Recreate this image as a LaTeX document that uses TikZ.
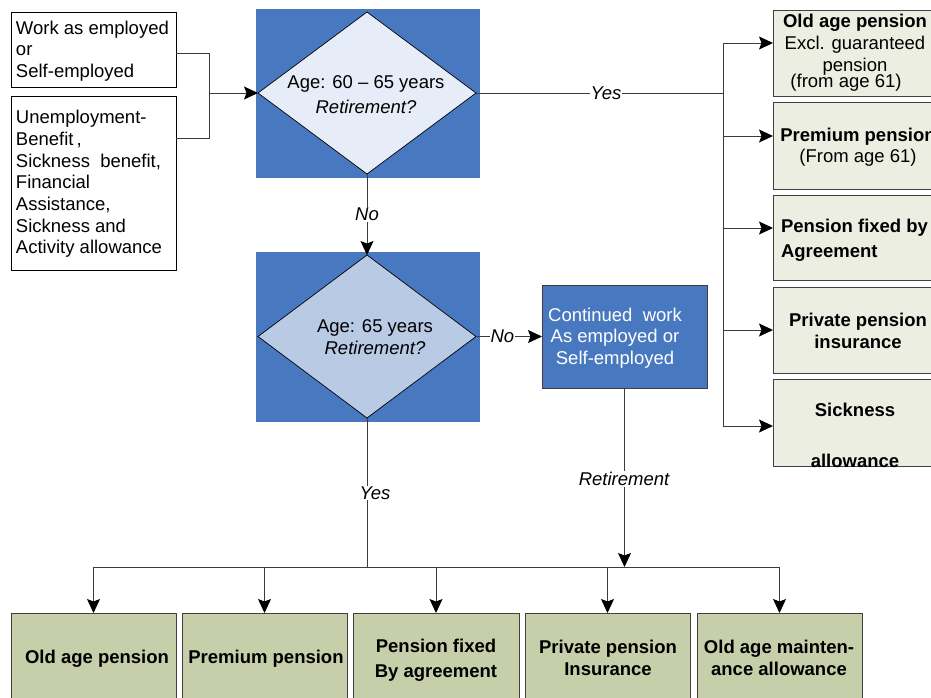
\documentclass[tikz,border=0pt]{standalone}
\usepackage{fontspec}
\setmainfont{Liberation Sans}
\usetikzlibrary{arrows.meta,shapes.geometric}

\definecolor{panelblue}{HTML}{4878C0}
\definecolor{diamondlight}{HTML}{E6EDF8}
\definecolor{diamondmid}{HTML}{B8CAE4}
\definecolor{paybox}{HTML}{EDEEE2}
\definecolor{outcomebox}{HTML}{C6CFA9}
\definecolor{wire}{HTML}{3C3C3C}
\definecolor{frame}{HTML}{404040}

\begin{document}
\begin{tikzpicture}[x=1pt,y=-1pt,
  every node/.style={font=\fontsize{18.5}{21.5}\selectfont, inner sep=0pt, outer sep=0pt},
  line/.style={draw=wire, line width=0.9pt},
  arr/.style={line, -{Stealth[length=14pt,width=13pt,inset=2.5pt,color=black]}},
  plainbox/.style={draw=black, line width=0.9pt, fill=white, rectangle},
  panel/.style={fill=panelblue, rectangle},
  choice/.style={diamond, draw=black, line width=0.7pt, aspect=1.35},
  paybox/.style={draw=frame, line width=1pt, fill=paybox, rectangle},
  outbox/.style={draw=frame, line width=1pt, fill=outcomebox, rectangle},
  lbl/.style={fill=white, inner sep=1pt, font=\fontsize{18.5}{21.5}\selectfont\itshape},
  boldtxt/.style={font=\fontsize{18.5}{21.5}\selectfont\bfseries, align=center}]

\useasboundingbox (0,0) rectangle (931,697);

% ---- entry situations
\node[plainbox, minimum width=165pt, minimum height=75pt] (lb1) at (93.5,49.5) {};
\node[align=left, anchor=west] (lb1t) at (16,51)
  {Work as employed\\or\\Self-employed};
\node[plainbox, minimum width=165pt, minimum height=174pt] (lb2) at (93.5,183) {};
\node[align=left, anchor=west, font=\fontsize{18.5}{21.7}\selectfont] (lb2t) at (16,184)
  {Unemployment-\\Benefit\,,\\Sickness\ \ benefit,\\Financial\\Assistance,\\Sickness and\\Activity allowance};

% ---- first decision
\node[panel, minimum width=224pt, minimum height=169pt] (p1) at (368,93.5) {};
\node[choice, fill=diamondlight, minimum width=218pt, minimum height=162pt] (d1) at (367,93) {};
\node[align=center] (d1t) at (366,95) {Age: 60 -- 65 years\\[3.5pt]\textit{Retirement?}};

% ---- second decision
\node[panel, minimum width=224pt, minimum height=170pt] (p2) at (368,337) {};
\node[choice, fill=diamondmid, minimum width=218pt, minimum height=163pt] (d2) at (367,336.5) {};
\node[align=center] (d2t) at (375,337) {Age: 65 years\\\textit{Retirement?}};

% ---- continued work
\node[draw=frame, line width=1pt, fill=panelblue, minimum width=165pt, minimum height=103pt] (cw) at (624.5,336.5) {};
\node[align=center, text=white] (cwt) at (615,338)
  {Continued\ \ work\\As employed or\\Self-employed};

% ---- early pension outcomes
\node[paybox, minimum width=172pt, minimum height=86pt] (rb1) at (859,53) {};
\node[align=center] (rb1t) at (855,53)
  {\textbf{Old age pension}\\Excl. guaranteed\\[0.5pt]pension\\[-5pt]\hspace*{-18pt}(from age 61)};
\node[paybox, minimum width=172pt, minimum height=87pt] (rb2) at (859,145.5) {};
\node[align=center] (rb2t) at (858,147)
  {\textbf{Premium pension}\\(From age 61)};
\node[paybox, minimum width=172pt, minimum height=85pt] (rb3) at (859,237.5) {};
\node[align=left, anchor=west, font=\fontsize{18.5}{25}\selectfont\bfseries] (rb3t) at (781,240.5)
  {Pension fixed by\\Agreement};
\node[paybox, minimum width=172pt, minimum height=86pt] (rb4) at (859,330) {};
\node[boldtxt] (rb4t) at (858,331) {Private pension\\insurance};
\node[paybox, minimum width=172pt, minimum height=87pt] (rb5) at (859,422.5) {};
\node[boldtxt] (rb5t) at (855,435.5) {Sickness\\[29.5pt]allowance};

% ---- pension outcomes at 65
\node[outbox, minimum width=165pt, minimum height=92pt] (bb1) at (93.5,659) {};
\node[boldtxt] (bb1t) at (97,659) {Old age pension};
\node[outbox, minimum width=165pt, minimum height=92pt] (bb2) at (264.5,659) {};
\node[boldtxt] (bb2t) at (266,659) {Premium pension};
\node[outbox, minimum width=166pt, minimum height=92pt] (bb3) at (436,659) {};
\node[boldtxt] (bb3t) at (436,660) {Pension fixed\\[3pt]By agreement};
\node[outbox, minimum width=165pt, minimum height=92pt] (bb4) at (607.5,659) {};
\node[boldtxt] (bb4t) at (608,658) {Private pension\\Insurance};
\node[outbox, minimum width=165pt, minimum height=92pt] (bb5) at (779.5,659) {};
\node[boldtxt] (bb5t) at (779,658) {Old age mainten-\\ance allowance};

% ---- junction points
\coordinate (jin) at (209,93);
\coordinate (jout) at (723,93);
\coordinate (bus) at (93.5,567);

% inputs merge into the first decision
\draw[line] (lb1.east |- 0,53) -| (jin);
\draw[line] (lb2.east |- 0,138) -| (jin);
\draw[arr] (jin) -- (d1.west);

% yes branch of the first decision
\draw[line] (d1.east) -- (jout);
\node[lbl] (yes1) at (606,93) {Yes};
\draw[line] (jout |- 0,43) -- (jout |- 0,426);
\draw[arr] (jout |- 0,43) -- (rb1.west |- 0,43);
\draw[arr] (jout |- 0,136) -- (rb2.west |- 0,136);
\draw[arr] (jout |- 0,228) -- (rb3.west |- 0,228);
\draw[arr] (jout |- 0,330) -- (rb4.west |- 0,330);
\draw[arr] (jout |- 0,426) -- (rb5.west |- 0,426);

% no branch of the first decision
\draw[arr] (d1.south) -- node[lbl] (no1) {No} (d2.north);

% no branch of the second decision
\draw[arr] (d2.east) -- node[lbl, pos=0.4] (no2) {No} (cw.west);

% yes branch of the second decision and the outcome bus
\draw[line] (d2.south) -- (d2.south |- bus);
\node[lbl] (yes2) at (375,493) {Yes};
\draw[line] (bb1.north |- bus) -- (bb5.north |- bus);
\draw[arr] (bb1.north |- bus) -- (bb1.north);
\draw[arr] (bb2.north |- bus) -- (bb2.north);
\draw[arr] (bb3.north |- bus) -- (bb3.north);
\draw[arr] (bb4.north |- bus) -- (bb4.north);
\draw[arr] (bb5.north |- bus) -- (bb5.north);

% retirement after continued work
\draw[arr] (cw.south) -- (cw.south |- bus);
\node[lbl] (ret) at (624,479) {Retirement};

\end{tikzpicture}
\end{document}
